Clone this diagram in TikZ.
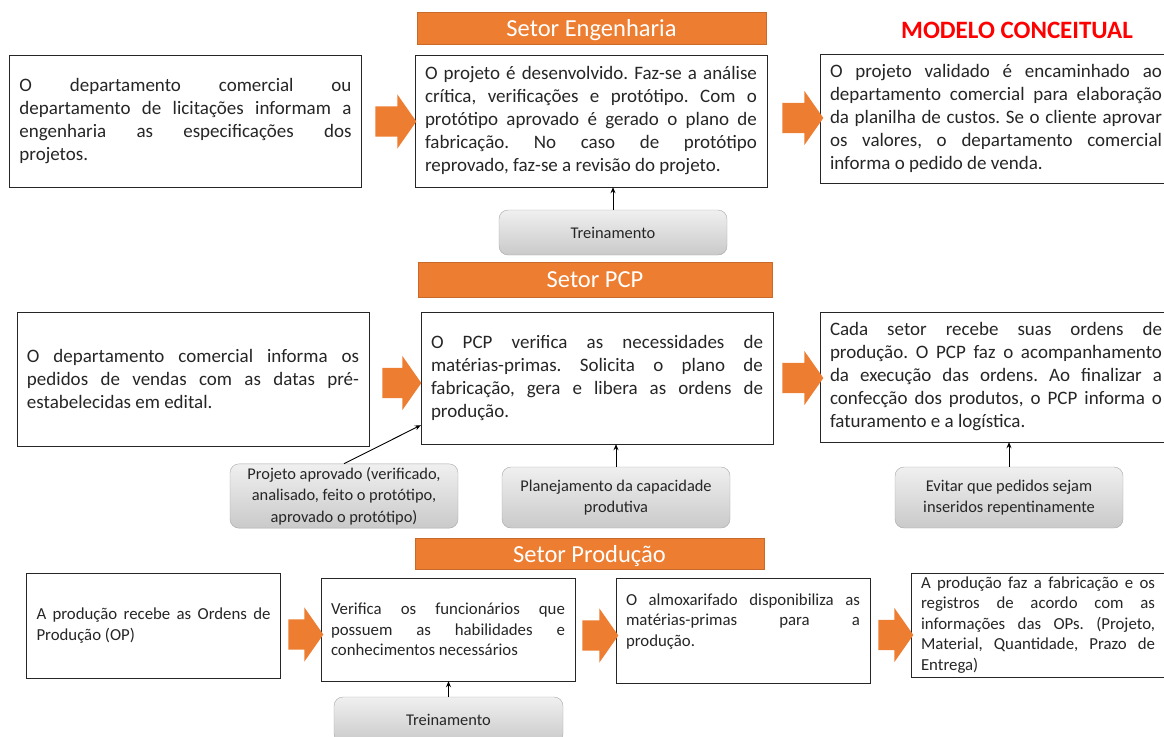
\documentclass[tikz,border=0pt]{standalone}
\usepackage{fontspec}
\setmainfont{Carlito}
\usetikzlibrary{shapes.arrows,arrows.meta}
\definecolor{laranja}{HTML}{ED7D31}
\definecolor{texto}{HTML}{262626}
\hyphenpenalty=10000
\tolerance=10000
\frenchspacing
\begin{document}
\begin{tikzpicture}[x=1pt,y=-1pt,
    caixa/.style={draw=black!85, fill=white, text=texto, align=justify, text width=332pt,
        inner xsep=10pt, inner ysep=0pt, font=\fontsize{19}{23}\selectfont},
    caixap/.style={caixa, text width=234pt, font=\fontsize{16.8}{20.6}\selectfont},
    setor/.style={fill=laranja, draw=laranja!85!black, text=white, inner sep=0pt, text depth=0pt,
        font=\fontsize{24.5}{28}\selectfont},
    nota/.style={draw=gray!70, rounded corners=9pt, top color=gray!12, bottom color=gray!42,
        text=texto, align=center, minimum width=228pt, font=\fontsize{16.4}{21.5}\selectfont},
    seta/.style={single arrow, fill=laranja, inner xsep=0pt, inner ysep=15pt,
        single arrow head extend=12pt, single arrow tip angle=110},
    liga/.style={-{Stealth[length=6pt,width=5pt]}, line width=0.9pt}]
    \useasboundingbox (0,0) rectangle (1164,736);
% setores
    \node[setor, minimum width=349pt, minimum height=32pt] (eng) at (591.5,28) {Setor Engenharia};
    \node[setor, minimum width=354pt, minimum height=35pt] (pcp) at (595,279.5) {Setor PCP};
    \node[setor, minimum width=349pt, minimum height=31pt] (prod) at (589.5,553.5) {Setor Produção};
    \node[text=red, font=\bfseries\fontsize{25}{28}\selectfont] (titulo) at (1017,30) {MODELO CONCEITUAL};
% engenharia
    \node[caixa, minimum height=132pt] (a1) at (185.5,121) {O departamento comercial ou\linebreak
        departamento de licitações informam a\linebreak engenharia as especificações dos\linebreak projetos.};
    \node[caixa, minimum height=132pt] (b1) at (591,121) {O projeto é desenvolvido. Faz-se a análise\linebreak
        crítica, verificações e protótipo. Com o\linebreak protótipo aprovado é gerado o plano de\linebreak
        fabricação. No caso de protótipo\linebreak reprovado, faz-se a revisão do projeto.};
    \node[caixa, minimum height=129pt] (c1) at (996,118.5) {O projeto validado é encaminhado ao\linebreak
        departamento comercial para elaboração\linebreak da planilha de custos. Se o cliente aprovar\linebreak
        os valores, o departamento comercial\linebreak informa o pedido de venda.};
    \node[nota, minimum height=45pt] (tr1) at (613,232.5) {Treinamento};
% pcp
    \node[caixa, minimum height=134pt] (a2) at (193,379) {O departamento comercial informa os\linebreak
        pedidos de vendas com as datas pré-\linebreak estabelecidas em edital.};
    \node[caixa, minimum height=132pt] (b2) at (597,378) {O PCP verifica as necessidades de\linebreak
        matérias-primas. Solicita o plano de\linebreak fabricação, gera e libera as ordens de\linebreak produção.};
    \node[caixa, minimum height=130pt] (c2) at (996,377) {Cada setor recebe suas ordens de\linebreak
        produção. O PCP faz o acompanhamento\linebreak da execução das ordens. Ao finalizar a\linebreak
        confecção dos produtos, o PCP informa o\linebreak faturamento e a logística.};
    \node[nota, minimum height=62pt] (apr) at (344,496) {Projeto aprovado (verificado,\\
        analisado, feito o protótipo,\\ aprovado o protótipo)};
    \node[nota, minimum height=61pt] (plan) at (616,497.5) {Planejamento da capacidade\\ produtiva};
    \node[nota, minimum height=61pt] (evi) at (1009,497.5) {Evitar que pedidos sejam\\ inseridos repentinamente};
% producao
    \node[caixap, minimum height=105pt] (a3) at (153.5,625.5) {A produção recebe as Ordens de\linebreak Produção (OP)};
    \node[caixap, minimum height=103pt] (b3) at (448,629.5) {Verifica os funcionários que\linebreak
        possuem as habilidades e\linebreak conhecimentos necessários};
    \node[caixap, minimum height=105pt] (c3) at (743,630.5) {O almoxarifado disponibiliza as\linebreak
        matérias-primas para a\linebreak produção.\par\vspace{18pt}};
    \node[caixap, minimum height=104pt] (d3) at (1038,625) {A produção faz a fabricação e os\linebreak
        registros de acordo com as\linebreak informações das OPs. (Projeto,\linebreak
        Material, Quantidade, Prazo de\linebreak Entrega)};
    \node[nota, minimum width=229pt, minimum height=46pt] (tr3) at (448.5,720) {Treinamento};
% setas
    \foreach \n/\x/\y/\l in {s1/390.5/121.5/41, s2/797.5/118/41, s3/396.5/383/39, s4/797.5/378/41,
                            s5/300.5/634.5/35, s6/595/635.5/36, s7/890.5/635/35}{
        \node[seta, minimum height=\l pt] (\n) at (\x,\y) {};
    }
    \foreach \a/\b in {tr1/b1, plan/b2, evi/c2, tr3/b3}{
        \draw[liga] (\a.north) -- (\a.north |- \b.south);
    }
    \draw[liga] (apr.north) -- ([yshift=19pt]b2.south west);
\end{tikzpicture}
\end{document}
